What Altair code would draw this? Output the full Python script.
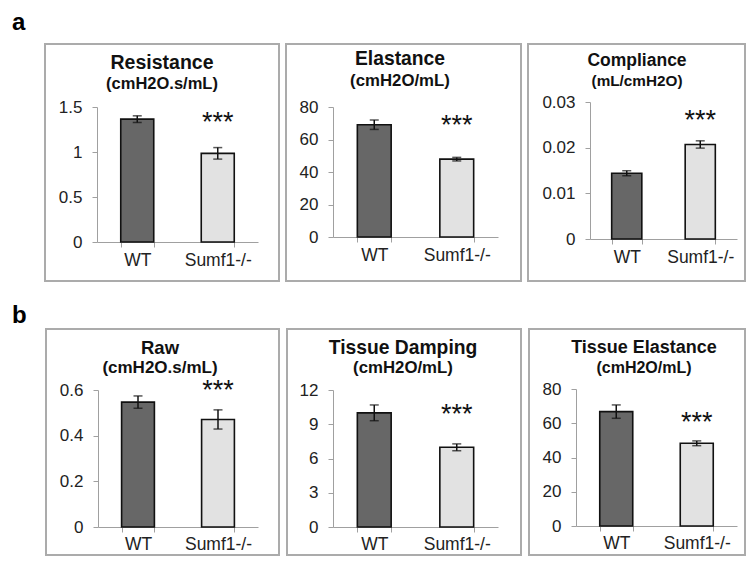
import altair as alt
import pandas as pd

# ---------------- data ----------------
groups = ["WT", "Sumf1-/-"]
titles = ["Resistance", "Elastance", "Compliance", "Raw", "Tissue Damping", "Tissue Elastance"]
units = ["(cmH2O.s/mL)", "(cmH2O/mL)", "(mL/cmH2O)", "(cmH2O.s/mL)", "(cmH2O/mL)", "(cmH2O/mL)"]
means = [[1.365, 0.985], [69.1, 47.9], [0.0144, 0.0207], [0.547, 0.471], [10.0, 6.98], [66.8, 48.3]]
errors = [[0.037, 0.064], [2.9, 1.1], [0.00055, 0.0008], [0.027, 0.042], [0.69, 0.30], [3.9, 1.4]]
y_max = [1.5, 80, 0.03, 0.6, 12, 80]
y_ticks = [[0, 0.5, 1, 1.5], [0, 20, 40, 60, 80], [0, 0.01, 0.02, 0.03],
           [0, 0.2, 0.4, 0.6], [0, 3, 6, 9, 12], [0, 20, 40, 60, 80]]
star_level = [1.311, 67.1, 0.0256, 0.59, 9.64, 59.2]
star_text = "***"
row_labels = ["a", "b"]

# ---------------- layout (pixels inside each panel view) ----------------
FONT = "Liberation Sans"
col_w = [274, 242, 222]
row_h = [292, 256]
layout = [
    dict(box=(37, 36, 234, 237), ax=(89, 250), yz=(234, 99), tx=154, ty=(55, 76), fs=(19.5, 16.5), lp=4),
    dict(box=(4, 36, 235, 237), ax=(51, 216), yz=(229, 99), tx=118, ty=(51, 73), fs=(19.3, 16.8), lp=4),
    dict(box=(4, 36, 217, 237), ax=(66, 213), yz=(231, 94), tx=113, ty=(53, 73), fs=(17.5, 15.3), lp=4),
    dict(box=(38, 29, 233, 226), ax=(90, 250), yz=(227, 90), tx=152, ty=(48, 68), fs=(18.5, 17), lp=3),
    dict(box=(5, 29, 234, 226), ax=(51, 216), yz=(227, 90), tx=121, ty=(48, 68), fs=(19.3, 16.8), lp=3),
    dict(box=(5, 29, 216, 226), ax=(52, 213), yz=(226, 89), tx=120, ty=(48, 68), fs=(18, 16), lp=3),
]
label_pos = [(4, 22), (4, 23)]

WT_FILL = "#676767"
KO_FILL = "#e2e2e2"
AXIS_GREY = "#a0a0a0"
BOX_GREY = "#ababab"


def panel(i):
    L = layout[i]
    row, col = divmod(i, 3)
    W, H = col_w[col], row_h[row]
    df = pd.DataFrame({
        "group": groups,
        "mean": means[i],
        "lo": [m - e for m, e in zip(means[i], errors[i])],
        "hi": [m + e for m, e in zip(means[i], errors[i])],
    })
    x = alt.X(
        "group:N", sort=groups,
        scale=alt.Scale(domain=groups, range=[L["ax"][0], L["ax"][1]],
                        paddingInner=0.59, paddingOuter=0.295),
        axis=alt.Axis(title=None, orient="bottom", offset=-(H - L["yz"][0]),
                      tickBand="extent", labelAngle=0, labelFont=FONT,
                      labelFontSize=17.5, labelColor="#222", labelPadding=L["lp"],
                      tickSize=5, tickColor=AXIS_GREY, domainColor=AXIS_GREY,
                      domainWidth=1, tickWidth=1, grid=False),
    )
    yscale = alt.Scale(domain=[0, y_max[i]], range=[L["yz"][0], L["yz"][1]], nice=False, zero=True)
    yaxis = alt.Axis(title=None, orient="left", offset=-L["ax"][0], values=y_ticks[i],
                     format="~r", labelFont=FONT, labelFontSize=17, labelColor="#222",
                     labelPadding=10, tickSize=5, tickColor=AXIS_GREY, domainColor=AXIS_GREY,
                     domainWidth=1, tickWidth=1, grid=False)

    base = alt.Chart(df)
    bars = base.mark_bar(stroke="#111", strokeWidth=1.6).encode(
        x=x,
        y=alt.Y("mean:Q", scale=yscale, axis=yaxis),
        fill=alt.Fill("group:N", scale=alt.Scale(domain=groups, range=[WT_FILL, KO_FILL]), legend=None),
    )
    rule = base.mark_rule(color="#111", strokeWidth=1.5).encode(
        x=x, y=alt.Y("lo:Q", scale=yscale, axis=yaxis), y2="hi:Q")
    cap_lo = base.mark_tick(color="#111", thickness=1.5, size=9).encode(
        x=x, y=alt.Y("lo:Q", scale=yscale, axis=yaxis))
    cap_hi = base.mark_tick(color="#111", thickness=1.5, size=9).encode(
        x=x, y=alt.Y("hi:Q", scale=yscale, axis=yaxis))

    stars = alt.Chart(pd.DataFrame({"group": [groups[1]], "star": [star_level[i]], "t": [star_text]})).mark_text(
        font=FONT, fontSize=27, color="#111", baseline="alphabetic", align="center", dy=6.5
    ).encode(x=x, y=alt.Y("star:Q", scale=yscale, axis=yaxis), text="t:N")

    bx, by, bw, bh = L["box"]
    box = alt.Chart(pd.DataFrame({"k": [0]})).mark_rect(
        fillOpacity=0, stroke=BOX_GREY, strokeWidth=2
    ).encode(x=alt.value(bx), x2=alt.value(bx + bw), y=alt.value(by), y2=alt.value(by + bh))

    ttl = alt.Chart(pd.DataFrame({"t": [titles[i]]})).mark_text(
        font=FONT, fontWeight="bold", fontSize=L["fs"][0], color="#111", baseline="middle", align="center"
    ).encode(x=alt.value(L["tx"]), y=alt.value(L["ty"][0]), text="t:N")
    sub = alt.Chart(pd.DataFrame({"t": [units[i]]})).mark_text(
        font=FONT, fontWeight="bold", fontSize=L["fs"][1], color="#111", baseline="middle", align="center"
    ).encode(x=alt.value(L["tx"]), y=alt.value(L["ty"][1]), text="t:N")

    layers = [box, bars, rule, cap_lo, cap_hi, stars, ttl, sub]
    if col == 0:
        lx, ly = label_pos[row]
        lab = alt.Chart(pd.DataFrame({"t": [row_labels[row]]})).mark_text(
            font=FONT, fontWeight="bold", fontSize=24, color="#000", baseline="alphabetic", align="left"
        ).encode(x=alt.value(lx), y=alt.value(ly), text="t:N")
        layers.append(lab)
    return alt.layer(*layers).properties(width=W, height=H)


rows = []
for r in range(2):
    rows.append(
        alt.hconcat(*[panel(3 * r + c) for c in range(3)], spacing=0)
        .resolve_scale(x="independent", y="independent", fill="independent")
    )

chart = (
    alt.vconcat(*rows, spacing=0)
    .resolve_scale(x="independent", y="independent", fill="independent")
    .properties(padding=0, background="white")
    .configure_view(stroke=None)
)

chart.save("out.html", embed_options={"renderer": "svg", "actions": False})
